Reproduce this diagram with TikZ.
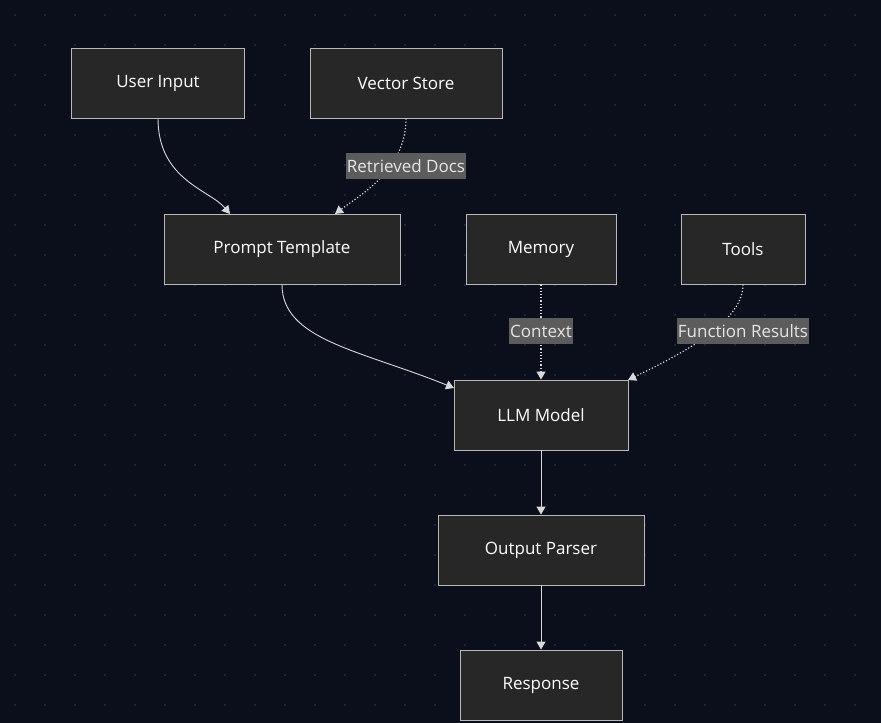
\documentclass[tikz,border=0pt]{standalone}
\usepackage{fontspec}
\setmainfont{Open Sans}
\usetikzlibrary{arrows.meta}
\begin{document}
\begin{tikzpicture}[x=1pt,y=-1pt,
  box/.style={draw=boxline,fill=boxfill,line width=0.9pt,text=white,font=\fontsize{17}{20}\selectfont,inner sep=0pt},
  lab/.style={fill=labfill,text=labtext,font=\fontsize{17}{20}\selectfont,inner sep=1pt,minimum height=26},
  solidarrow/.style={draw=edge,line width=0.9pt,-{Triangle[length=8pt,width=9pt]}},
  dotarrow/.style={draw=edge,line width=1.2pt,dotted,-{Triangle[length=8pt,width=9pt]}}]
\definecolor{bg}{HTML}{0B0F1C}
\definecolor{boxfill}{HTML}{272727}
\definecolor{boxline}{HTML}{B8B8B8}
\definecolor{labfill}{HTML}{5C5C5C}
\definecolor{labtext}{HTML}{E6E6E6}
\definecolor{edge}{HTML}{D8D8D8}
\definecolor{dot}{HTML}{2A2F3C}
\fill[bg] (0,0) rectangle (881,723);
\useasboundingbox (0,0) rectangle (881,723);
\foreach \i in {0,...,29} \foreach \j in {0,...,24} \fill[dot] (15+30*\i,15+30*\j) circle (1.1);
\node[box,minimum width=173,minimum height=70] (ui) at (158,83) {User Input};
\node[box,minimum width=192,minimum height=70] (vs) at (406,83) {Vector Store};
\node[box,minimum width=236,minimum height=70] (pt) at (282,249) {Prompt Template};
\node[box,minimum width=150,minimum height=70] (mem) at (541,249) {Memory};
\node[box,minimum width=124,minimum height=70] (tools) at (743,249) {Tools};
\node[box,minimum width=174,minimum height=70] (llm) at (541,415) {LLM Model};
\node[box,minimum width=206,minimum height=70] (op) at (541,550) {Output Parser};
\node[box,minimum width=162,minimum height=70] (resp) at (541,685) {Response};
\draw[solidarrow] (ui.south) .. controls (158,180) and (210,190) .. (230,214);
\draw[dotarrow] (vs.south) .. controls (406,170) and (360,195) .. (335,214);
\draw[solidarrow] (pt.south) .. controls (282,340) and (360,350) .. (454,388);
\draw[dotarrow] (mem.south) -- (llm.north);
\draw[dotarrow] (tools.south) .. controls (743,320) and (690,350) .. (628,380);
\draw[solidarrow] (llm.south) -- (op.north);
\draw[solidarrow] (op.south) -- (resp.north);
\node[lab] (l1) at (406,166) {Retrieved Docs};
\node[lab] (l2) at (541,331) {Context};
\node[lab] (l3) at (743,331) {Function Results};
\end{tikzpicture}
\end{document}
